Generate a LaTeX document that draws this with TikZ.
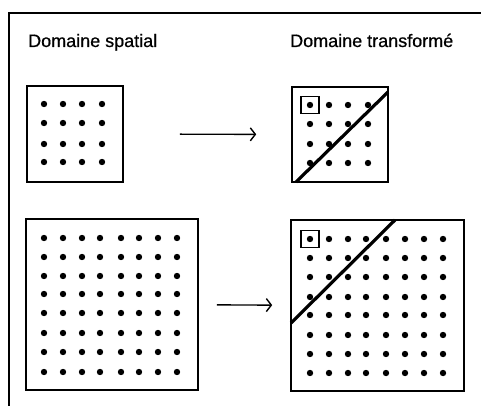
\documentclass[tikz,border=0pt]{standalone}
\usepackage{fontspec}
\setmainfont{Liberation Sans}
\newfontfamily\titlefont{Liberation Sans}[FakeBold=0.6]
\usetikzlibrary{arrows.meta}
\tikzset{
  panel/.style={draw, line width=1.6pt, inner sep=0pt, fill=none},
  dotmark/.style={fill=black},
  sq/.style={draw, line width=1.4pt, inner sep=0pt, minimum width=18pt, minimum height=17pt},
  diag/.style={line width=3.2pt},
  arr/.style={line width=1.4pt, -{Straight Barb[length=5pt,width=13pt,line width=1.4pt]}},
  frame/.style={line width=1.5pt},
  title/.style={anchor=base west, inner sep=0pt, font=\titlefont\fontsize{18pt}{20pt}\selectfont}
}
\begin{document}
\begin{tikzpicture}[x=1pt,y=-1pt]
\useasboundingbox (0,0) rectangle (481,406);
% outer frame
\coordinate (fa) at (9,406);
\coordinate (fb) at (9,13);
\coordinate (fc) at (481,13);
\draw[frame] (fa) -- (fb) -- (fc);
% titles
\node[title] (ts) at (28,47) {Domaine spatial};
\node[title] (tt) at (290,47) {Domaine transformé};
% panels
\node[panel, minimum width=96pt, minimum height=96pt] (s1) at (75,134) {};
\node[panel, minimum width=96pt, minimum height=95pt] (t1) at (340,134.5) {};
\node[panel, minimum width=172pt, minimum height=171pt] (s2) at (112,304.5) {};
\node[panel, minimum width=173pt, minimum height=171pt] (t2) at (377.5,305.5) {};
% dots
\foreach \x in {44,63,82,102} \foreach \y in {104,123,144,162} \fill[dotmark] (\x,\y) circle (3.2pt);
\foreach \x in {310,329,348,368} \foreach \y in {105,124,144,163} \fill[dotmark] (\x,\y) circle (3.2pt);
\foreach \x in {44,63,82,100,121,139,158,177} \foreach \y in {238,257,276,294,313,333,352,372} \fill[dotmark] (\x,\y) circle (3.2pt);
\foreach \x in {310,329,348,366,386,405,424,443} \foreach \y in {239,258,277,297,315,335,354,373} \fill[dotmark] (\x,\y) circle (3.2pt);
% small squares
\node[sq] (q1) at (310,105) {};
\node[sq] (q2) at (310,239) {};
% diagonals
\draw[diag] (296,182) -- (388,92);
\draw[diag] (291,323) -- (395,220);
% arrows
\draw[arr, shorten <=56pt, shorten >=35pt] (s1) -- (t1);
\draw[arr, shorten <=18pt, shorten >=18pt] (s2) -- (t2);
\end{tikzpicture}
\end{document}
